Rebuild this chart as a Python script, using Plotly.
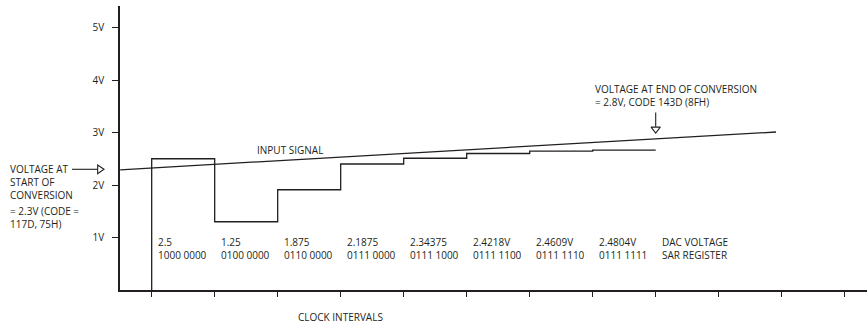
import plotly.graph_objects as go

# ---- data ----
clock_ticks = list(range(0, 12))
step_clock = [0, 1, 2, 3, 4, 5, 6, 7, 8]
dac_levels = [2.5, 1.30, 1.91, 2.40, 2.51, 2.60, 2.646, 2.665]
input_clock = [-0.5, 9.91]
input_volts = [2.29, 3.01]
volt_ticks = [1, 2, 3, 4, 5]
volt_labels = ["1V", "2V", "3V", "4V", "5V"]
dac_text = ["2.5", "1.25", "1.875", "2.1875", "2.34375", "2.4218V", "2.4609V", "2.4804V", "DAC VOLTAGE"]
sar_text = ["1000 0000", "0100 0000", "0110 0000", "0111 0000", "0111 1000",
            "0111 1100", "0111 1110", "0111 1111", "SAR REGISTER"]
start_text_a = "VOLTAGE AT<br>START OF<br>CONVERSION"
start_text_b = "= 2.3V (CODE =<br>117D, 75H)"
end_text = "VOLTAGE AT END OF CONVERSION<br>= 2.8V, CODE 143D (8FH)"

INK = "#231f20"
FONT = dict(family="Open Sans", size=10, color=INK)

fig = go.Figure()

# DAC step output
sx = [step_clock[0]] + step_clock[:len(dac_levels)] + [step_clock[len(dac_levels)]]
sy = [0] + dac_levels + [dac_levels[-1]]
fig.add_trace(go.Scatter(x=sx, y=sy, mode="lines", line=dict(color=INK, width=1.3, shape="hv"),
                         hoverinfo="skip", showlegend=False))

# input signal
fig.add_trace(go.Scatter(x=input_clock, y=input_volts, mode="lines", line=dict(color=INK, width=1.3),
                         hoverinfo="skip", showlegend=False))

# open arrow head at end-of-conversion
fig.add_trace(go.Scatter(x=[8], y=[3.065], mode="markers", cliponaxis=False,
                         marker=dict(symbol="triangle-down", size=8, color="white",
                                     line=dict(color=INK, width=1.1)),
                         hoverinfo="skip", showlegend=False))

shapes = [
    dict(type="line", xref="x", yref="y", x0=8, x1=8, y0=3.381, y1=3.11,
         line=dict(color=INK, width=1.1)),
    dict(type="line", xref="paper", yref="paper", x0=-0.0643, x1=-0.0299, y0=0.425, y1=0.425,
         line=dict(color=INK, width=1.1)),
    dict(type="path", xref="paper", yref="paper",
         path="M -0.0299,0.4401 L -0.0214,0.4250 L -0.0299,0.4095 Z",
         fillcolor="white", line=dict(color=INK, width=1.1)),
]

ann = []
for k, (d, s) in enumerate(zip(dac_text, sar_text)):
    ann.append(dict(x=step_clock[k], y=0.80, xref="x", yref="y", text=d + "<br>" + s,
                    showarrow=False, align="left",
                    xanchor="left", yanchor="middle", xshift=4, font=FONT))

ann.append(dict(x=-0.1495, y=2.055, xref="paper", yref="y", text=start_text_a, showarrow=False,
                align="left", xanchor="left", yanchor="middle", font=FONT))
ann.append(dict(x=-0.1495, y=1.38, xref="paper", yref="y", text=start_text_b, showarrow=False,
                align="left", xanchor="left", yanchor="middle", font=FONT))
ann.append(dict(x=7.0, y=3.71, xref="x", yref="y", text=end_text, showarrow=False,
                align="left", xanchor="left", yanchor="middle", font=FONT))
ann.append(dict(x=2.19, y=2.67, xref="x", yref="y", text="INPUT SIGNAL", showarrow=False,
                xanchor="center", yanchor="middle", font=FONT))
ann.append(dict(x=2.99, y=-0.096, xref="x", yref="paper", text="CLOCK INTERVALS", showarrow=False,
                xanchor="center", yanchor="middle", font=FONT))

fig.update_layout(
    width=867, height=326,
    margin=dict(l=120, r=0, t=6, b=36),
    paper_bgcolor="white", plot_bgcolor="white",
    font=FONT,
    shapes=shapes, annotations=ann,
    xaxis=dict(range=[-0.503, 11.354], showgrid=False, zeroline=False, showline=True,
               linecolor=INK, linewidth=1.5, ticks="outside", ticklen=5, tickwidth=1.3,
               tickcolor=INK, tickvals=clock_ticks, showticklabels=False, fixedrange=True),
    yaxis=dict(range=[0, 5.41], showgrid=False, zeroline=False, showline=True,
               linecolor=INK, linewidth=1.5, ticks="outside", ticklen=6, tickwidth=1.3,
               tickcolor=INK, tickvals=volt_ticks, ticktext=volt_labels,
               tickfont=FONT, ticklabelstandoff=6, fixedrange=True),
)

fig.write_html("out.html", config={"displayModeBar": False},
               post_script="document.body.style.margin='0';")
